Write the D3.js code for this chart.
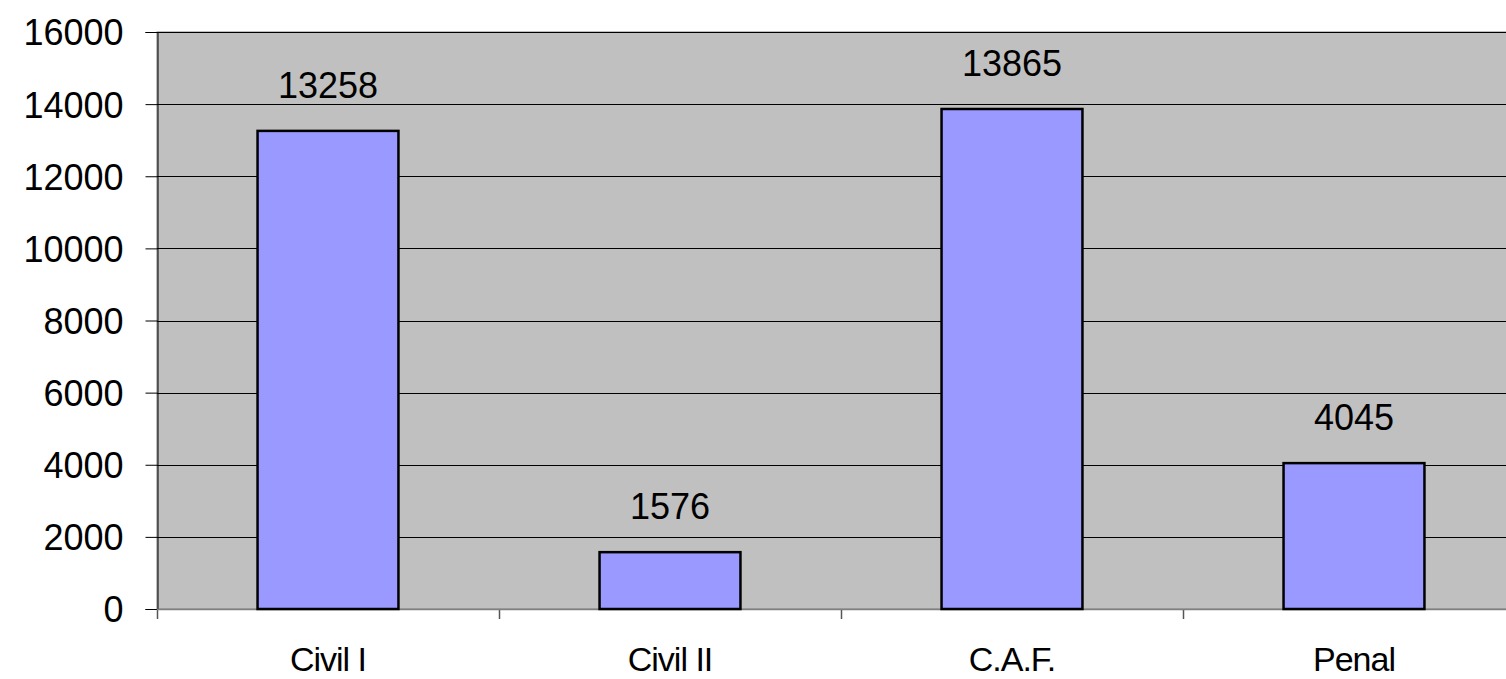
<!DOCTYPE html>
<html>
<head>
<meta charset="utf-8">
<script src="https://cdn.jsdelivr.net/npm/d3@7"></script>
<style>
  body { margin: 0; background: #fff; }
  text { font-family: "Liberation Sans", Arial, sans-serif; fill: #000; }
</style>
</head>
<body>
<svg id="chart"></svg>
<script>
// chart data
var categories = ["Civil I", "Civil II", "C.A.F.", "Penal"];
var values = [13258, 1576, 13865, 4045];
var yTicks = [0, 2000, 4000, 6000, 8000, 10000, 12000, 14000, 16000];

var width = 1506, height = 679;
// plot area runs a little past the right edge, like the original
var margin = { left: 157, top: 32, right: -19, bottom: 70 };

var svg = d3.select("#chart").attr("width", width).attr("height", height);

var x = d3.scaleBand()
  .domain(categories)
  .range([margin.left, width - margin.right])
  .paddingInner(0.588)
  .paddingOuter(0.294);

var y = d3.scaleLinear()
  .domain([0, 16000])
  .range([height - margin.bottom, margin.top]);

// plot area background
svg.append("rect")
  .attr("x", margin.left)
  .attr("y", y(16000))
  .attr("width", width - margin.right - margin.left)
  .attr("height", y(0) - y(16000))
  .attr("fill", "#c0c0c0")
  .attr("stroke", "#808080")
  .attr("stroke-width", 1);

// gridlines
svg.append("g")
  .selectAll("line")
  .data(yTicks.slice(1))
  .enter()
  .append("line")
  .attr("x1", margin.left)
  .attr("x2", width - margin.right)
  .attr("y1", (d) => Math.round(y(d)) + 0.5)
  .attr("y2", (d) => Math.round(y(d)) + 0.5)
  .attr("stroke", "#000")
  .attr("stroke-width", 1);

// y axis
var yAxis = svg.append("g")
  .attr("transform", `translate(${margin.left + 0.5},0)`)
  .call(d3.axisLeft(y).tickValues(yTicks).tickSize(12).tickPadding(22).tickFormat(d3.format("d")));
yAxis.select(".domain").attr("stroke", "#000");
yAxis.selectAll(".tick line").attr("stroke", "#000");
yAxis.selectAll(".tick text")
  .style("font-size", "36px")
  .style("font-family", "'Liberation Sans', Arial, sans-serif")
  .attr("dy", "0.36em");

// x axis ticks sit on the category boundaries
svg.append("g")
  .selectAll("line")
  .data(d3.range(categories.length + 1))
  .enter()
  .append("line")
  .attr("x1", (i) => Math.round(margin.left + i * x.step()) + 0.5)
  .attr("x2", (i) => Math.round(margin.left + i * x.step()) + 0.5)
  .attr("y1", y(0))
  .attr("y2", y(0) + 10)
  .attr("stroke", "#555")
  .attr("stroke-width", 1.5);

svg.append("line")
  .attr("x1", margin.left)
  .attr("x2", width)
  .attr("y1", y(0) + 0.5)
  .attr("y2", y(0) + 0.5)
  .attr("stroke", "#808080")
  .attr("stroke-width", 1.5);

// bars
svg.append("g")
  .selectAll("rect")
  .data(values)
  .enter()
  .append("rect")
  .attr("x", (d, i) => x(categories[i]))
  .attr("y", (d) => y(d))
  .attr("width", x.bandwidth())
  .attr("height", (d) => y(0) - y(d))
  .attr("fill", "#9999ff")
  .attr("stroke", "#000")
  .attr("stroke-width", 2.5);

// value labels
svg.append("g")
  .selectAll("text")
  .data(values)
  .enter()
  .append("text")
  .attr("x", (d, i) => x(categories[i]) + x.bandwidth() / 2)
  .attr("y", (d) => y(d) - 33)
  .attr("text-anchor", "middle")
  .style("font-size", "36px")
  .text((d) => d);

// category labels
svg.append("g")
  .selectAll("text")
  .data(categories)
  .enter()
  .append("text")
  .attr("x", (d) => x(d) + x.bandwidth() / 2)
  .attr("y", height - 8)
  .attr("text-anchor", "middle")
  .style("font-size", "34px")
  .style("letter-spacing", "-1px")
  .text((d) => d);
</script>
</body>
</html>
